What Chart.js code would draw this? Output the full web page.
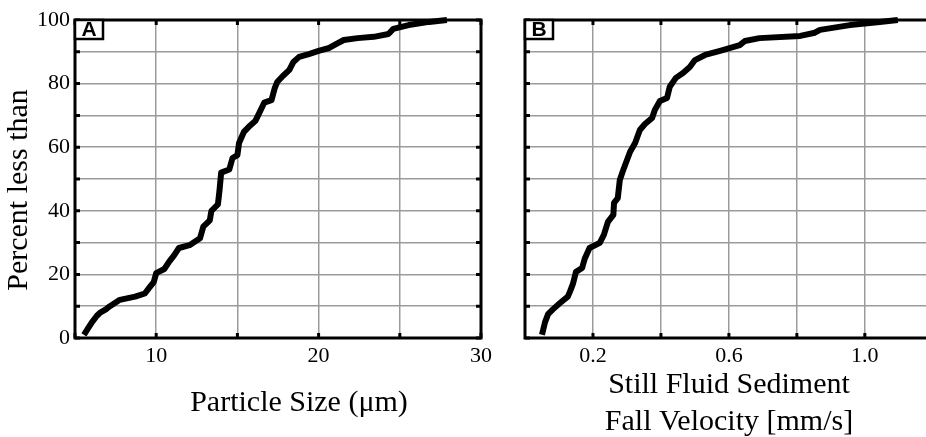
<!DOCTYPE html>
<html>
<head>
<meta charset="utf-8">
<script src="https://cdn.jsdelivr.net/npm/chart.js@4"></script>
<style>
  html, body { margin: 0; padding: 0; background: #fff; }
  #wrap { position: relative; width: 926px; height: 437px; overflow: hidden; }
  #wrap canvas { position: absolute; top: 0; }
</style>
</head>
<body>
<div id="wrap">
  <div style="position:absolute;left:0;top:0;width:500px;height:437px"><canvas id="sizeChart"></canvas></div>
  <div style="position:absolute;left:500px;top:0;width:426px;height:437px"><canvas id="velChart"></canvas></div>
</div>
<script>
// cumulative grain size distribution (panel A)
var sizeUm = [5.55, 5.8, 6.05, 6.35, 6.55, 6.9, 7.15, 7.76, 8.7, 9.3, 9.6, 9.85, 10.0, 10.5, 10.8,
  11.1, 11.4, 12.05, 12.7, 12.9, 13.3, 13.4, 13.8, 13.9, 14.0, 14.5, 14.7, 15.0, 15.1, 15.4,
  15.7, 16.1, 16.35, 16.65, 17.1, 17.3, 17.45, 17.8, 18.2, 18.45, 18.8, 19.4, 20.0, 20.65, 21.1,
  21.55, 22.4, 23.4, 24.3, 24.6, 25.55, 26.8, 27.9];
var sizePct = [1, 3, 5, 7, 8, 9, 10, 12, 13, 14, 16, 17.6, 20.4, 21.7, 24,
  26, 28.3, 29.2, 31.4, 35, 37, 40, 42, 46.5, 52, 53, 56.6, 57.5, 61.3, 64.8,
  66.4, 68.2, 70.8, 74, 74.8, 78.6, 80.5, 82.4, 84.3, 86.8, 88.4, 89.3, 90.3, 91.2, 92.5,
  93.7, 94.3, 94.7, 95.6, 97.2, 98.4, 99.4, 100];

// cumulative still-fluid fall velocity distribution (panel B)
var fallVel = [0.05, 0.059, 0.068, 0.082, 0.103, 0.126, 0.132, 0.141, 0.15, 0.168,
  0.176, 0.19, 0.22, 0.232, 0.244, 0.26, 0.262, 0.273, 0.279, 0.288,
  0.309, 0.324, 0.338, 0.353, 0.374, 0.382, 0.397, 0.418, 0.426, 0.444,
  0.465, 0.485, 0.5, 0.53, 0.574, 0.632, 0.647, 0.69, 0.81, 0.853,
  0.868, 0.956, 1.044, 1.097];
var fallPct = [1, 5, 7.5, 9, 11, 13, 14.5, 17, 20.8, 22,
  25, 28.3, 29.9, 32.4, 36.5, 38.7, 42.5, 44, 49.7, 52.5,
  58.5, 61.3, 65.4, 67.3, 69.2, 71.7, 74.5, 75.5, 79, 81.8,
  83.3, 85.2, 87.4, 89, 90.3, 92.1, 93.4, 94.3, 95, 96,
  96.9, 98.4, 99.4, 100];

// axes
var sizeGrid = [5, 10, 15, 20, 25, 30];
var sizeLabels = ['10', '20', '30'];
var velGrid = [0.2, 0.4, 0.6, 0.8, 1.0];
var velLabels = ['0.2', '0.6', '1.0'];
var pctGrid = [0, 10, 20, 30, 40, 50, 60, 70, 80, 90, 100];
var pctLabels = ['0', '20', '40', '60', '80', '100'];

var serif = '"Liberation Serif", "Times New Roman", serif';

function labelFor(list) {
    return function (v) {
        for (var i = 0; i < list.length; i++) {
            if (Math.abs(parseFloat(list[i]) - v) < 1e-6) return list[i];
        }
        return '';
    };
}

function fixedTicks(values) {
    return function (scale) {
        scale.ticks = values.map(function (v) { return { value: v }; });
    };
}

// frame, inward tick marks, panel letter and axis titles
var framePlugin = {
    id: 'frame',
    beforeDatasetsDraw: function (chart, args, opts) {
        var a = chart.chartArea, ctx = chart.ctx;
        var xs = chart.scales.x, ys = chart.scales.y;
        ctx.save();
        ctx.strokeStyle = '#000';
        ctx.lineWidth = 3;
        ctx.lineCap = 'square';
        ctx.beginPath();
        ctx.moveTo(a.left, a.top); ctx.lineTo(a.right, a.top);
        ctx.moveTo(a.left, a.top); ctx.lineTo(a.left, a.bottom);
        ctx.moveTo(a.left, a.bottom); ctx.lineTo(a.right, a.bottom);
        if (opts.rightEdge) { ctx.moveTo(a.right, a.top); ctx.lineTo(a.right, a.bottom); }
        ctx.stroke();
        ctx.lineCap = 'butt';
        ctx.beginPath();
        xs.ticks.forEach(function (t) {
            var px = xs.getPixelForValue(t.value);
            ctx.moveTo(px, a.bottom); ctx.lineTo(px, a.bottom - 5);
            ctx.moveTo(px, a.top); ctx.lineTo(px, a.top + 5);
        });
        ys.ticks.forEach(function (t) {
            var py = ys.getPixelForValue(t.value);
            ctx.moveTo(a.left, py); ctx.lineTo(a.left + 5, py);
            if (opts.rightEdge) { ctx.moveTo(a.right, py); ctx.lineTo(a.right - 5, py); }
        });
        ctx.stroke();
        ctx.restore();
    },
    afterDraw: function (chart, args, opts) {
        var a = chart.chartArea, ctx = chart.ctx;
        ctx.save();
        // panel letter
        ctx.fillStyle = '#fff';
        ctx.fillRect(a.left, a.top, 28, 19);
        ctx.strokeStyle = '#000';
        ctx.lineWidth = 2.5;
        ctx.strokeRect(a.left, a.top, 28, 19);
        ctx.fillStyle = '#000';
        ctx.font = 'bold 21px "Liberation Sans", Arial, sans-serif';
        ctx.textAlign = 'center';
        ctx.textBaseline = 'middle';
        ctx.fillText(opts.letter, a.left + 14, a.top + 10.5);
        // axis titles
        ctx.font = '30px ' + serif;
        (opts.xTitle || []).forEach(function (line, i) {
            ctx.fillText(line, opts.xTitleX, opts.xTitleY + i * 37);
        });
        if (opts.yTitle) {
            ctx.translate(opts.yTitleX, opts.yTitleY);
            ctx.rotate(-Math.PI / 2);
            ctx.fillText(opts.yTitle, 0, 0);
        }
        ctx.restore();
    }
};

function panel(id, xData, yData, xMin, xMax, xGrid, xLabels, leftWidth, padRight, frameOpts) {
    var ctx = document.getElementById(id).getContext('2d');
    var points = xData.map(function (x, i) { return { x: x, y: yData[i] }; });
    return new Chart(ctx, {
        type: 'scatter',
        data: {
            datasets: [{
                data: points,
                showLine: true,
                borderColor: '#000',
                borderWidth: 6,
                borderJoinStyle: 'round',
                pointRadius: 0,
                tension: 0,
                clip: false
            }]
        },
        options: {
            responsive: true,
            maintainAspectRatio: false,
            animation: false,
            events: [],
            layout: { padding: { top: 20, right: padRight, bottom: 0, left: 0 } },
            plugins: {
                legend: { display: false },
                tooltip: { enabled: false },
                frame: frameOpts
            },
            scales: {
                x: {
                    type: 'linear',
                    min: xMin,
                    max: xMax,
                    afterBuildTicks: fixedTicks(xGrid),
                    afterFit: function (s) { s.height = 99; },
                    grid: { color: '#9b9b9b', lineWidth: 1.5, drawTicks: false },
                    border: { display: false },
                    ticks: {
                        autoSkip: false,
                        maxRotation: 0,
                        padding: 5,
                        color: '#000',
                        font: { family: serif, size: 22 },
                        callback: labelFor(xLabels)
                    }
                },
                y: {
                    min: 0,
                    max: 100,
                    afterBuildTicks: fixedTicks(pctGrid),
                    afterFit: function (s) { s.width = leftWidth; },
                    grid: { color: '#9b9b9b', lineWidth: 1.5, drawTicks: false },
                    border: { display: false },
                    ticks: {
                        display: frameOpts.letter === 'A',
                        autoSkip: false,
                        padding: 5,
                        color: '#000',
                        font: { family: serif, size: 22 },
                        callback: labelFor(pctLabels)
                    }
                }
            }
        },
        plugins: [framePlugin]
    });
}

panel('sizeChart', sizeUm, sizePct, 5, 30, sizeGrid, sizeLabels, 75, 19, {
    letter: 'A', rightEdge: true,
    xTitle: ['Particle Size (\u03bcm)'], xTitleX: 299, xTitleY: 403,
    yTitle: 'Percent less than', yTitleX: 19, yTitleY: 190
});

panel('velChart', fallVel, fallPct, 0, 1.18, velGrid, velLabels, 25, 0, {
    letter: 'B', rightEdge: false,
    xTitle: ['Still Fluid Sediment', 'Fall Velocity [mm/s]'], xTitleX: 229, xTitleY: 385
});
</script>
</body>
</html>
